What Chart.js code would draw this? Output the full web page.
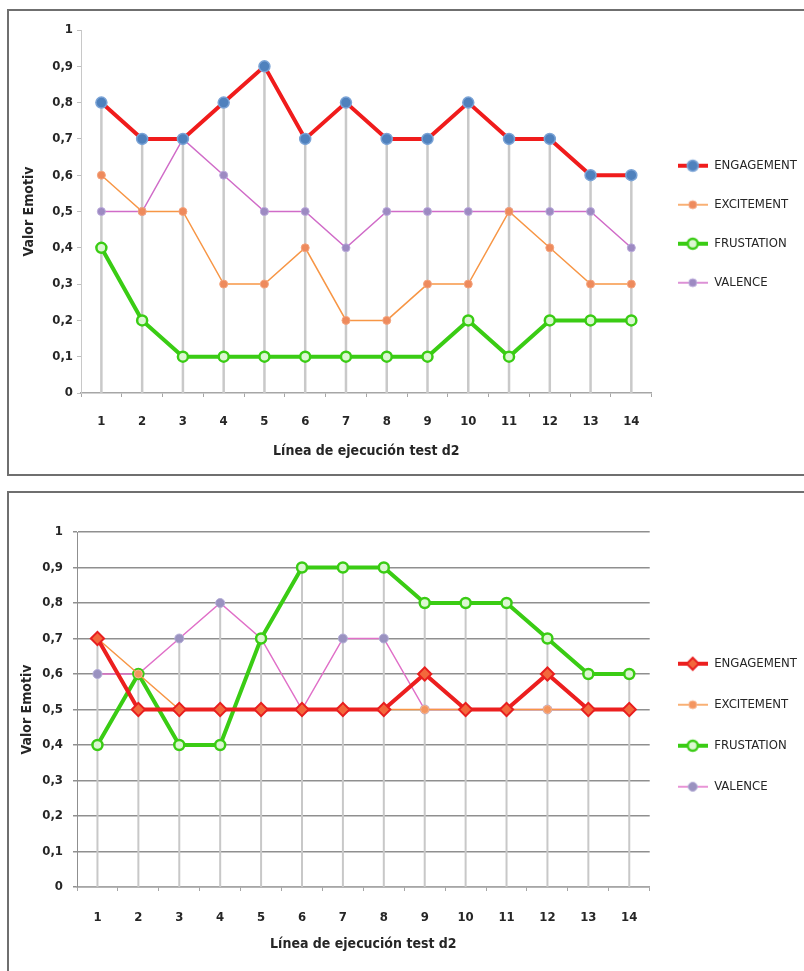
<!DOCTYPE html>
<html>
<head>
<meta charset="utf-8">
<script src="https://cdn.jsdelivr.net/npm/chart.js@4.4.0/dist/chart.umd.min.js"></script>
<style>
  html, body { margin: 0; padding: 0; background: #fff; width: 804px; height: 971px; overflow: hidden; }
  .box { position: absolute; left: 7px; width: 806px; border: 2px solid #6f6f6f; box-sizing: border-box; background: #fff; }
  #box1 { top: 9px; height: 467px; }
  #box2 { top: 491px; height: 490px; }
  canvas { display: block; }
</style>
</head>
<body>
<div class="box" id="box1"><canvas id="chart1"></canvas></div>
<div class="box" id="box2"><canvas id="chart2"></canvas></div>
<script>
// Categories (x axis)
const steps = ['1', '2', '3', '4', '5', '6', '7', '8', '9', '10', '11', '12', '13', '14'];
const seriesNames = ['ENGAGEMENT', 'EXCITEMENT', 'FRUSTATION', 'VALENCE'];

// First chart values
const engagement1 = [0.8, 0.7, 0.7, 0.8, 0.9, 0.7, 0.8, 0.7, 0.7, 0.8, 0.7, 0.7, 0.6, 0.6];
const excitement1 = [0.6, 0.5, 0.5, 0.3, 0.3, 0.4, 0.2, 0.2, 0.3, 0.3, 0.5, 0.4, 0.3, 0.3];
const frustation1 = [0.4, 0.2, 0.1, 0.1, 0.1, 0.1, 0.1, 0.1, 0.1, 0.2, 0.1, 0.2, 0.2, 0.2];
const valence1    = [0.5, 0.5, 0.7, 0.6, 0.5, 0.5, 0.4, 0.5, 0.5, 0.5, 0.5, 0.5, 0.5, 0.4];

// Second chart values
const engagement2 = [0.7, 0.5, 0.5, 0.5, 0.5, 0.5, 0.5, 0.5, 0.6, 0.5, 0.5, 0.6, 0.5, 0.5];
const excitement2 = [0.7, 0.6, 0.5, 0.5, 0.5, 0.5, 0.5, 0.5, 0.5, 0.5, 0.5, 0.5, 0.5, 0.5];
const frustation2 = [0.4, 0.6, 0.4, 0.4, 0.7, 0.9, 0.9, 0.9, 0.8, 0.8, 0.8, 0.7, 0.6, 0.6];
const valence2    = [0.6, 0.6, 0.7, 0.8, 0.7, 0.5, 0.7, 0.7, 0.5, 0.5, 0.5, 0.5, 0.5, 0.5];

const yTitle = 'Valor Emotiv';
const xTitle = 'Línea de ejecución test d2';

const FONT = "'Liberation Sans Narrow', 'DejaVu Sans Condensed', 'Noto Sans', sans-serif";
const TEXT = '#262626';

// Series looks (line + marker)
const styles1 = [
  { line: '#f01c1c', width: 4, shape: 'circle', r: 5.5, fill: '#4f81bd', stroke: '#7aa3d6', sw: 1.5 },
  { line: '#f79646', width: 1.5, shape: 'circle', r: 4, fill: '#ee8a5c', stroke: '#f4a47e', sw: 1 },
  { line: '#3acc14', width: 4, shape: 'circle', r: 5, fill: '#dcf7d2', stroke: '#3acc14', sw: 2.5 },
  { line: '#d06cc8', width: 1.5, shape: 'circle', r: 4, fill: '#9d8ac2', stroke: '#b9a9da', sw: 1 }
];
const styles2 = [
  { line: '#ec1f1f', width: 4, shape: 'diamond', r: 6, fill: '#f3683c', stroke: '#e81f1f', sw: 2 },
  { line: '#f79646', width: 1.5, shape: 'circle', r: 4, fill: '#f4955f', stroke: '#f8b38a', sw: 1 },
  { line: '#3acc14', width: 4, shape: 'circle', r: 5, fill: '#dcf7d2', stroke: '#3acc14', sw: 2.5 },
  { line: '#e070c8', width: 1.5, shape: 'circle', r: 4.5, fill: '#9a92c0', stroke: '#b3acd6', sw: 1 }
];

// Small legend glyph: a line with its marker
function makeGlyph(s) {
  const c = document.createElement('canvas');
  c.width = 30;
  c.height = 16;
  const g = c.getContext('2d');
  g.strokeStyle = s.line;
  g.lineWidth = s.width;
  g.beginPath();
  g.moveTo(0, 8);
  g.lineTo(30, 8);
  g.stroke();
  g.fillStyle = s.fill;
  g.strokeStyle = s.stroke;
  g.lineWidth = s.sw;
  g.beginPath();
  if (s.shape === 'diamond') {
    g.moveTo(15, 8 - s.r);
    g.lineTo(15 + s.r, 8);
    g.lineTo(15, 8 + s.r);
    g.lineTo(15 - s.r, 8);
    g.closePath();
  } else {
    g.arc(15, 8, s.r, 0, Math.PI * 2);
  }
  g.fill();
  g.stroke();
  return c;
}

// Vertical drop lines from the highest point of each category down to 0
const dropLines = {
  id: 'dropLines',
  beforeDatasetsDraw(chart, args, opts) {
    const { ctx, scales } = chart;
    const x = scales.x, y = scales.y;
    ctx.save();
    ctx.strokeStyle = opts.color;
    ctx.lineWidth = opts.width;
    chart.data.labels.forEach((lab, i) => {
      const top = Math.max(...chart.data.datasets.map(ds => ds.data[i]));
      const px = x.getPixelForValue(i);
      ctx.beginPath();
      ctx.moveTo(px, y.getPixelForValue(top));
      ctx.lineTo(px, y.getPixelForValue(0));
      ctx.stroke();
    });
    ctx.restore();
  }
};

function fmtTick(v) {
  if (Math.abs(v) < 1e-9) return '0';
  if (Math.abs(v - 1) < 1e-9) return '1';
  return v.toFixed(1).replace('.', ',');
}

function buildChart(id, seriesData, styles, geo) {
  const glyphs = styles.map(makeGlyph);
  const datasets = seriesData.map((data, i) => {
    const s = styles[i];
    return {
      label: seriesNames[i],
      data: data,
      borderColor: s.line,
      borderWidth: s.width,
      backgroundColor: s.fill,
      pointStyle: s.shape === 'diamond' ? 'rectRot' : 'circle',
      pointRadius: s.shape === 'diamond' ? s.r * 1.1 : s.r,
      pointBackgroundColor: s.fill,
      pointBorderColor: s.stroke,
      pointBorderWidth: s.sw,
      tension: 0,
      fill: false
    };
  });

  return new Chart(document.getElementById(id), {
    type: 'line',
    data: { labels: steps, datasets: datasets },
    plugins: [dropLines],
    options: {
      responsive: true,
      maintainAspectRatio: false,
      animation: false,
      layout: { padding: { top: geo.top, right: geo.right, bottom: 0, left: 0 } },
      plugins: {
        dropLines: { color: geo.dropColor, width: geo.dropWidth },
        tooltip: { enabled: false },
        legend: {
          position: 'right',
          align: 'start',
          title: { display: true, text: ' ', padding: { top: geo.legendTop, bottom: 0 }, font: { size: 1 } },
          labels: {
            usePointStyle: true,
            pointStyleWidth: 30,
            padding: geo.legendGap,
            color: TEXT,
            font: { family: FONT, size: 13 },
            generateLabels: chart => chart.data.datasets.map((ds, i) => ({
              text: ds.label,
              pointStyle: glyphs[i],
              fontColor: TEXT,
              fillStyle: 'transparent',
              strokeStyle: 'transparent',
              lineWidth: 0,
              hidden: false,
              datasetIndex: i
            }))
          }
        }
      },
      scales: {
        x: {
          offset: true,
          afterFit: scale => { scale.height = geo.xHeight; },
          grid: {
            offset: true,
            drawOnChartArea: false,
            drawTicks: true,
            tickLength: 4,
            color: '#a6a6a6',
            lineWidth: 1
          },
          border: { color: '#a6a6a6', width: 1.5 },
          ticks: {
            color: TEXT,
            padding: geo.xPad,
            maxRotation: 0,
            font: { family: FONT, size: 13, weight: 'bold' }
          },
          title: {
            display: true,
            text: xTitle,
            color: TEXT,
            padding: { top: 0, bottom: geo.xTitlePad },
            font: { family: FONT, size: 14, weight: 'bold' }
          }
        },
        y: {
          min: 0,
          max: 1,
          afterFit: scale => { scale.width = geo.yWidth; },
          grid: {
            drawOnChartArea: geo.hGrid,
            drawTicks: true,
            tickLength: 4,
            color: geo.gridColor,
            lineWidth: geo.gridWidth
          },
          border: { color: geo.yAxisColor, width: 1 },
          ticks: {
            stepSize: 0.1,
            color: TEXT,
            padding: geo.yPad,
            callback: fmtTick,
            font: { family: FONT, size: 13, weight: 'bold' }
          },
          title: {
            display: true,
            text: yTitle,
            color: TEXT,
            padding: { top: geo.yTitlePad, bottom: 0 },
            font: { family: FONT, size: 14, weight: 'bold' }
          }
        }
      }
    }
  });
}

buildChart('chart1', [engagement1, excitement1, frustation1, valence1], styles1, {
  top: 19, right: 4, xHeight: 81, xPad: 17, xTitlePad: 14, yWidth: 72, yPad: 4, yTitlePad: 12,
  hGrid: false, gridColor: '#bfbfbf', gridWidth: 1, yAxisColor: '#c8c8c8',
  dropColor: '#c9c9c9', dropWidth: 2.5, legendTop: 102, legendGap: 26
});

buildChart('chart2', [engagement2, excitement2, frustation2, valence2], styles2, {
  top: 39, right: 4, xHeight: 92, xPad: 19, xTitlePad: 26, yWidth: 68, yPad: 10, yTitlePad: 10,
  hGrid: true, gridColor: '#8f8f8f', gridWidth: 1.5, yAxisColor: '#8f8f8f',
  dropColor: '#c8c8c8', dropWidth: 2, legendTop: 96, legendGap: 28
});
</script>
</body>
</html>
